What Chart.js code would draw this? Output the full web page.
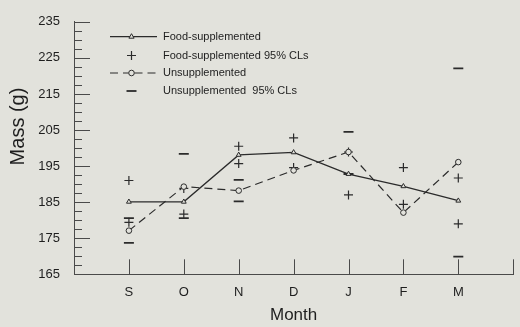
<!DOCTYPE html>
<html lang="en">
<head>
    <meta charset="UTF-8">
    <title>Mass by Month</title>
    <script src="https://cdn.jsdelivr.net/npm/chart.js"></script>
    <style>
        body {
            margin: 0;
            background-color: #e2e2dc;
        }
        #massChart {
            display: block;
        }
    </style>
</head>
<body>
    <canvas id="massChart" width="520" height="327"></canvas>

    <script>
        // Values (mass in grams)
        const months = ['S', 'O', 'N', 'D', 'J', 'F', 'M'];
        const foodMean = [185.1, 185.1, 198.1, 198.8, 192.8, 189.4, 185.4];
        const foodUpper = [191.0, 188.8, 200.5, 202.8, 198.9, 194.6, 191.7];
        const foodLower = [179.4, 181.7, 195.7, 194.6, 187.0, 184.4, 179.0];
        const unsuppMean = [177.1, 189.3, 188.2, 193.8, 198.9, 182.1, 196.1];
        const unsuppUpper = [180.6, 198.4, 191.2, null, 204.5, null, 222.1];
        const unsuppLower = [173.7, 180.6, 185.2, null, 192.8, null, 169.9];

        const yTicks = [165, 175, 185, 195, 205, 215, 225, 235];

        const ink = '#2b2b2b';
        const axisInk = '#4a4a4a';
        const bg = '#e2e2dc';
        const fontFamily = '"Liberation Sans", Arial, sans-serif';

        function points(values) {
            return values
                .map((v, i) => ({ x: i, y: v }))
                .filter(p => p.y !== null);
        }

        function clPoints(a, b) {
            return points(a).concat(points(b));
        }

        // inward tick marks on both axes
        const tickMarks = {
            id: 'tickMarks',
            afterDraw(chart) {
                const { ctx, chartArea: area } = chart;
                const x = chart.scales.x, y = chart.scales.y;
                ctx.save();
                ctx.strokeStyle = axisInk;
                ctx.lineWidth = 1;
                ctx.beginPath();
                for (let v = y.min; v <= y.max; v += 2.5) {
                    const py = Math.round(y.getPixelForValue(v)) + 0.5;
                    const len = (v - y.min) % 10 === 0 ? 16 : 8;
                    ctx.moveTo(area.left, py);
                    ctx.lineTo(area.left + len, py);
                }
                for (let i = 0; i <= months.length; i++) {
                    const px = Math.round(x.getPixelForValue(i)) + 0.5;
                    ctx.moveTo(px, area.bottom);
                    ctx.lineTo(px, area.bottom - 15);
                }
                ctx.stroke();

                // y title, sits a bit above the middle in the original
                ctx.fillStyle = '#1e1e1e';
                ctx.font = '20px ' + fontFamily;
                ctx.textAlign = 'center';
                ctx.textBaseline = 'middle';
                ctx.translate(18.5, 126.5);
                ctx.rotate(-Math.PI / 2);
                ctx.fillText('Mass (g)', 0, 0);
                ctx.restore();
            }
        };

        // legend drawn inside the plot, top left
        const boxLegend = {
            id: 'boxLegend',
            afterDraw(chart) {
                const ctx = chart.ctx;
                const x0 = 110, x1 = 157, xm = 131.5, tx = 163;
                const rows = [36.7, 55.5, 73, 91];
                ctx.save();
                ctx.strokeStyle = ink;
                ctx.fillStyle = '#1e1e1e';

                // Food-supplemented
                ctx.lineWidth = 1.3;
                ctx.beginPath();
                ctx.moveTo(x0, rows[0]);
                ctx.lineTo(x1, rows[0]);
                ctx.stroke();
                ctx.lineWidth = 1;
                ctx.beginPath();
                ctx.moveTo(xm, rows[0] - 3);
                ctx.lineTo(xm + 2.6, rows[0] + 1.5);
                ctx.lineTo(xm - 2.6, rows[0] + 1.5);
                ctx.closePath();
                ctx.fillStyle = bg;
                ctx.fill();
                ctx.stroke();

                // CL cross
                ctx.lineWidth = 1.2;
                ctx.beginPath();
                ctx.moveTo(xm - 4.5, rows[1]);
                ctx.lineTo(xm + 4.5, rows[1]);
                ctx.moveTo(xm, rows[1] - 4.5);
                ctx.lineTo(xm, rows[1] + 4.5);
                ctx.stroke();

                // Unsupplemented dashed
                ctx.lineWidth = 1.2;
                ctx.setLineDash([8, 5]);
                ctx.beginPath();
                ctx.moveTo(x0, rows[2]);
                ctx.lineTo(xm - 3, rows[2]);
                ctx.moveTo(xm + 3, rows[2]);
                ctx.lineTo(x1, rows[2]);
                ctx.stroke();
                ctx.setLineDash([]);
                ctx.lineWidth = 1;
                ctx.beginPath();
                ctx.arc(xm, rows[2], 2.8, 0, Math.PI * 2);
                ctx.fill();
                ctx.stroke();

                // CL dash
                ctx.lineWidth = 1.8;
                ctx.beginPath();
                ctx.moveTo(xm - 5, rows[3]);
                ctx.lineTo(xm + 5, rows[3]);
                ctx.stroke();

                ctx.fillStyle = '#1e1e1e';
                ctx.font = '11px ' + fontFamily;
                ctx.textAlign = 'left';
                ctx.textBaseline = 'middle';
                ctx.fillText('Food-supplemented', tx, rows[0]);
                ctx.fillText('Food-supplemented 95% CLs', tx, rows[1]);
                ctx.fillText('Unsupplemented', tx, rows[2]);
                ctx.fillText('Unsupplemented  95% CLs', tx, rows[3]);
                ctx.restore();
            }
        };

        const ctx = document.getElementById('massChart').getContext('2d');
        new Chart(ctx, {
            type: 'scatter',
            data: {
                datasets: [
                    {
                        label: 'Food-supplemented',
                        data: points(foodMean),
                        showLine: true,
                        borderColor: ink,
                        borderWidth: 1.3,
                        pointStyle: 'triangle',
                        pointRadius: 2.8,
                        pointBorderWidth: 1,
                        pointBackgroundColor: bg,
                        pointBorderColor: ink
                    },
                    {
                        label: 'Unsupplemented',
                        data: points(unsuppMean),
                        showLine: true,
                        borderColor: ink,
                        borderWidth: 1.2,
                        borderDash: [8, 5],
                        pointStyle: 'circle',
                        pointRadius: 2.8,
                        pointBorderWidth: 1,
                        pointBackgroundColor: bg,
                        pointBorderColor: ink
                    },
                    {
                        label: 'Food-supplemented 95% CLs',
                        data: clPoints(foodUpper, foodLower),
                        showLine: false,
                        pointStyle: 'cross',
                        pointRadius: 4.5,
                        pointBorderWidth: 1.2,
                        pointBorderColor: ink
                    },
                    {
                        label: 'Unsupplemented 95% CLs',
                        data: clPoints(unsuppUpper, unsuppLower),
                        showLine: false,
                        pointStyle: 'line',
                        pointRadius: 5,
                        pointBorderWidth: 1.8,
                        pointBorderColor: ink
                    }
                ]
            },
            options: {
                responsive: false,
                animation: false,
                layout: {
                    padding: { top: 12, right: 6, bottom: 0, left: 0 }
                },
                plugins: {
                    legend: { display: false },
                    tooltip: { enabled: false }
                },
                scales: {
                    x: {
                        type: 'linear',
                        min: -1,
                        max: months.length,
                        grid: { display: false, drawTicks: false },
                        border: { display: true, color: axisInk, width: 1 },
                        afterBuildTicks: scale => {
                            scale.ticks = months.map((m, i) => ({ value: i }));
                        },
                        afterFit: scale => { scale.height = 52.7; },
                        ticks: {
                            padding: 10,
                            color: '#1e1e1e',
                            font: { family: fontFamily, size: 13 },
                            callback: value => months[value]
                        },
                        title: {
                            display: true,
                            text: 'Month',
                            color: '#1e1e1e',
                            font: { family: fontFamily, size: 17 },
                            padding: { top: 0, bottom: 1 }
                        }
                    },
                    y: {
                        min: 165,
                        max: 235,
                        grid: { display: false, drawTicks: false },
                        border: { display: true, color: axisInk, width: 1 },
                        afterBuildTicks: scale => {
                            scale.ticks = yTicks.map(v => ({ value: v }));
                        },
                        afterFit: scale => { scale.width = 74; },
                        ticks: {
                            padding: 14,
                            color: '#1e1e1e',
                            font: { family: fontFamily, size: 13 }
                        }
                    }
                }
            },
            plugins: [tickMarks, boxLegend]
        });
    </script>
</body>
</html>
